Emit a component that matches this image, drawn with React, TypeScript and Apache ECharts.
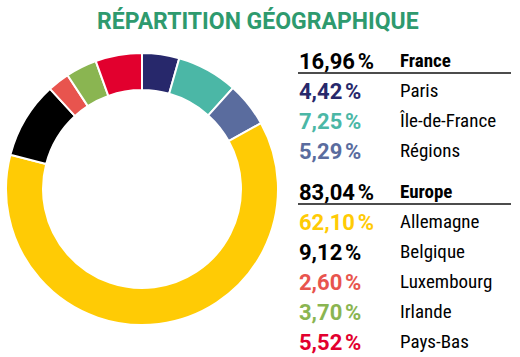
import React, { useEffect, useRef } from "react";
import * as echarts from "echarts";

const titleText = "RÉPARTITION GÉOGRAPHIQUE";
const franceHeader = "France";
const europeHeader = "Europe";
const franceNames = ["Paris", "Île-de-France", "Régions"];
const franceValues = [4.42, 7.25, 5.29];
const franceColors = ["#27286B", "#4BB7A6", "#5A6C9E"];
const europeNames = ["Allemagne", "Belgique", "Luxembourg", "Irlande", "Pays-Bas"];
const europeValues = [62.1, 9.12, 2.6, 3.7, 5.52];
const europeColors = ["#FFCB05", "#000000", "#E8544E", "#8AB551", "#E2002E"];

const fmt = (v: number) => v.toFixed(2).replace(".", ",") + "\u202F%";
const sum = (a: number[]) => Math.round(a.reduce((s, x) => s + x, 0) * 100) / 100;

export default function App() {
  const ref = useRef<HTMLDivElement>(null);
  useEffect(() => {
    if (!ref.current) return;
    const chart = echarts.init(ref.current, undefined, { renderer: "svg" });
    const numFont = "Roboto";
    const labFont = "'Liberation Sans Narrow', 'Roboto Condensed', Roboto";
    const numX = 299;
    const labX = 400;
    const graphics: any[] = [];
    const addGroup = (
      headerY: number,
      header: string,
      names: string[],
      values: number[],
      colors: string[]
    ) => {
      graphics.push({
        type: "text",
        left: numX,
        top: headerY - 12,
        style: { text: fmt(sum(values)), fill: "#000", font: `bold 22px ${numFont}` },
      });
      graphics.push({
        type: "text",
        left: labX,
        top: headerY - 11,
        style: { text: header, fill: "#000", font: `bold 19px ${labFont}` },
      });
      graphics.push({
        type: "line",
        shape: { x1: 298, y1: headerY + 11, x2: 511, y2: headerY + 11 },
        style: { stroke: "#111", lineWidth: 1.5 },
      });
      names.forEach((n, i) => {
        const y = headerY + 30 * (i + 1);
        graphics.push({
          type: "text",
          left: numX,
          top: y - 12,
          style: { text: fmt(values[i]), fill: colors[i], font: `bold 22px ${numFont}` },
        });
        graphics.push({
          type: "text",
          left: labX,
          top: y - 11,
          style: { text: n, fill: "#000", font: `19px ${labFont}` },
        });
      });
    };
    addGroup(62, franceHeader, franceNames, franceValues, franceColors);
    addGroup(193, europeHeader, europeNames, europeValues, europeColors);

    const names = [...franceNames, ...europeNames];
    const values = [...franceValues, ...europeValues];
    const colors = [...franceColors, ...europeColors];

    chart.setOption({
      animation: false,
      title: {
        text: titleText,
        left: 92,
        top: 5,
        textStyle: { color: "#2E9A6E", fontSize: 23, fontWeight: "bold", fontFamily: "Roboto" },
      },
      graphic: graphics,
      series: [
        {
          type: "pie",
          center: [142, 189],
          radius: [99, 136],
          startAngle: 90,
          clockwise: true,
          label: { show: false },
          labelLine: { show: false },
          emphasis: { disabled: true },
          itemStyle: { borderColor: "#fff", borderWidth: 2 },
          data: names.map((n, i) => ({ name: n, value: values[i], itemStyle: { color: colors[i] } })),
        },
      ],
    });
    return () => chart.dispose();
  }, []);
  return (
    <div
      ref={ref}
      style={{ position: "absolute", left: 0, top: 0, width: 520, height: 357, background: "#fff" }}
    />
  );
}
